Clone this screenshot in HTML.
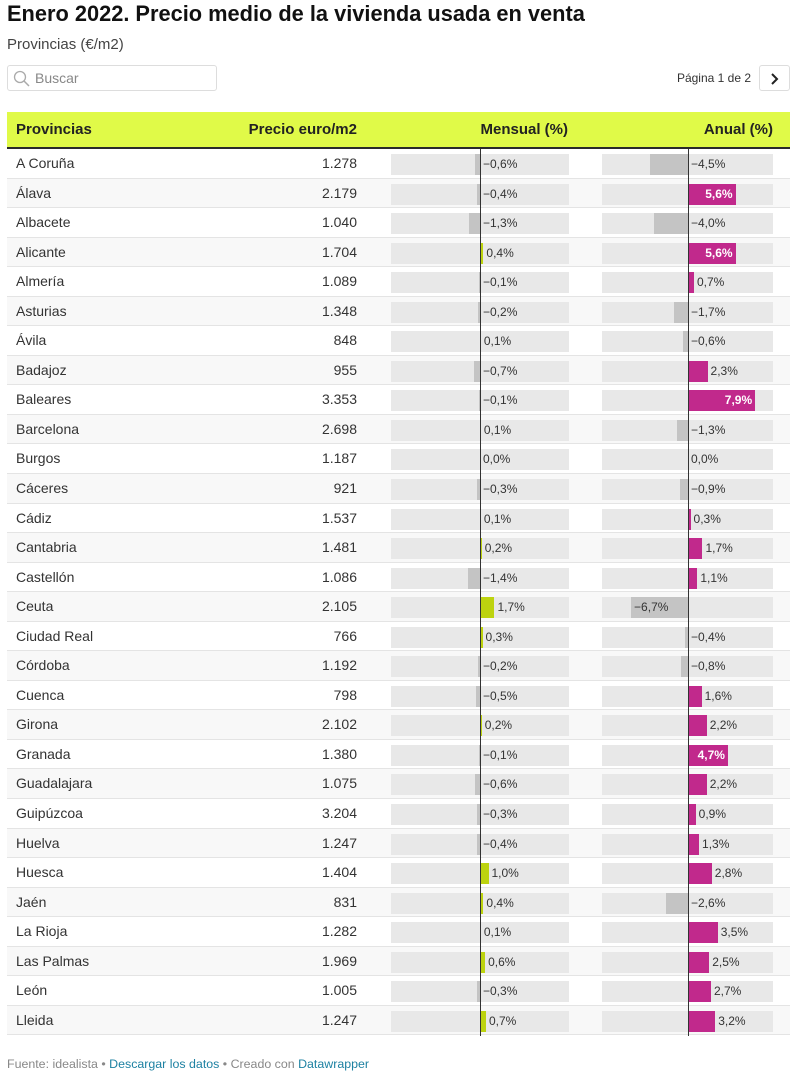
<!DOCTYPE html>
<html><head><meta charset="utf-8">
<style>
*{margin:0;padding:0;box-sizing:border-box}
i{font-style:normal}
body{width:800px;height:1079px;background:#fff;font-family:"Liberation Sans",Arial,sans-serif;color:#333;position:relative;overflow:hidden}
.title{position:absolute;left:7px;top:0;font-size:21.8px;font-weight:bold;line-height:28px;color:#111;white-space:nowrap}
.sub{position:absolute;left:7px;top:35px;font-size:15px;line-height:20px;color:#444}
.search{position:absolute;left:7px;top:65px;width:210px;height:26px;border:1px solid #ddd;border-radius:3px}
.search span{position:absolute;left:27px;top:0;line-height:24px;font-size:14px;color:#888}
.search svg{position:absolute;left:5px;top:4px}
.page{position:absolute;right:49px;top:70px;font-size:12px;line-height:16px;color:#333}
.nxt{position:absolute;left:759px;top:65px;width:31px;height:26px;border:1px solid #ddd;border-radius:3px}
.nxt svg{position:absolute;left:10px;top:7px}
.head{position:absolute;left:7px;top:112px;width:783px;height:37px;background:#e0fa48;border-bottom:2px solid #2a2a2a}
.head span{position:absolute;top:0;line-height:35px;font-size:15px;font-weight:bold;color:#222}
.rows{position:absolute;left:7px;top:149px;width:783px}
.row{position:relative;height:29.55px;border-bottom:1px solid #e4e4e4}
.row:nth-child(even){background:#f8f8f8}
.nm{position:absolute;left:9px;top:0;line-height:29px;font-size:14px;color:#333}
.pr{position:absolute;left:200px;width:150px;text-align:right;top:0;line-height:29px;font-size:14px;color:#333}
.bg1,.bg2{position:absolute;top:5px;height:21px;background:#e8e8e8}
.bg1{left:384px;width:178px}
.bg2{left:595px;width:171px}
.m,.a{position:absolute;top:5px;height:21px}
.m{left:calc(473px + min(var(--m),0)*8.5px);width:calc(max(var(--m),-1*var(--m))*8.5px)}
.a{left:calc(681px + min(var(--a),0)*8.5px);width:calc(max(var(--a),-1*var(--a))*8.5px)}
.mp .m{background:#bdd30f}.mn .m{background:#c4c4c4}
.ap .a{background:#c1298c}.an .a{background:#c4c4c4}
.ml,.al{position:absolute;top:5px;line-height:21px;font-size:12px;color:#333;white-space:nowrap}
.ml{left:calc(476px + max(var(--m),0)*8.5px)}
.al{left:calc(684px + max(var(--a),0)*8.5px)}
.a.in{color:#fff;font-weight:bold;font-size:12px;line-height:21px;text-align:right;padding-right:3px;white-space:nowrap}
.a.inl{color:#333;font-size:12px;line-height:21px;text-align:left;padding-left:3px;white-space:nowrap}
.z{position:absolute;top:149px;height:887px;width:1px;background:#333}
.foot{position:absolute;left:7px;top:1056px;font-size:12.4px;line-height:16px;color:#888;white-space:nowrap}
.foot b{font-weight:normal;color:#1d81a2}
</style></head><body>
<div class="title">Enero 2022. Precio medio de la vivienda usada en venta</div>
<div class="sub">Provincias (€/m2)</div>
<div class="search"><svg width="18" height="18" viewBox="0 0 18 18"><circle cx="7" cy="7" r="5.5" fill="none" stroke="#aaa" stroke-width="1.3"/><line x1="11" y1="11" x2="16" y2="16" stroke="#aaa" stroke-width="1.5"/></svg><span>Buscar</span></div>
<div class="page">Página 1 de 2</div>
<div class="nxt"><svg width="10" height="12" viewBox="0 0 10 12"><polyline points="2,1 7,6 2,11" fill="none" stroke="#222" stroke-width="2"/></svg></div>
<div class="head"><span style="left:9px">Provincias</span><span style="right:433px">Precio euro/m2</span><span style="right:222px">Mensual (%)</span><span style="right:17px">Anual (%)</span></div>
<div class="rows">
<div class="row mn an" style="--m:-0.6;--a:-4.5"><span class="nm">A Coruña</span><span class="pr">1.278</span><i class="bg1"></i><i class="m"></i><span class="ml">−0,6%</span><i class="bg2"></i><i class="a"></i><span class="al">−4,5%</span></div>
<div class="row mn ap" style="--m:-0.4;--a:5.6"><span class="nm">Álava</span><span class="pr">2.179</span><i class="bg1"></i><i class="m"></i><span class="ml">−0,4%</span><i class="bg2"></i><i class="a in">5,6%</i></div>
<div class="row mn an" style="--m:-1.3;--a:-4.0"><span class="nm">Albacete</span><span class="pr">1.040</span><i class="bg1"></i><i class="m"></i><span class="ml">−1,3%</span><i class="bg2"></i><i class="a"></i><span class="al">−4,0%</span></div>
<div class="row mp ap" style="--m:0.4;--a:5.6"><span class="nm">Alicante</span><span class="pr">1.704</span><i class="bg1"></i><i class="m"></i><span class="ml">0,4%</span><i class="bg2"></i><i class="a in">5,6%</i></div>
<div class="row mn ap" style="--m:-0.1;--a:0.7"><span class="nm">Almería</span><span class="pr">1.089</span><i class="bg1"></i><i class="m"></i><span class="ml">−0,1%</span><i class="bg2"></i><i class="a"></i><span class="al">0,7%</span></div>
<div class="row mn an" style="--m:-0.2;--a:-1.7"><span class="nm">Asturias</span><span class="pr">1.348</span><i class="bg1"></i><i class="m"></i><span class="ml">−0,2%</span><i class="bg2"></i><i class="a"></i><span class="al">−1,7%</span></div>
<div class="row mp an" style="--m:0.1;--a:-0.6"><span class="nm">Ávila</span><span class="pr">848</span><i class="bg1"></i><i class="m"></i><span class="ml">0,1%</span><i class="bg2"></i><i class="a"></i><span class="al">−0,6%</span></div>
<div class="row mn ap" style="--m:-0.7;--a:2.3"><span class="nm">Badajoz</span><span class="pr">955</span><i class="bg1"></i><i class="m"></i><span class="ml">−0,7%</span><i class="bg2"></i><i class="a"></i><span class="al">2,3%</span></div>
<div class="row mn ap" style="--m:-0.1;--a:7.9"><span class="nm">Baleares</span><span class="pr">3.353</span><i class="bg1"></i><i class="m"></i><span class="ml">−0,1%</span><i class="bg2"></i><i class="a in">7,9%</i></div>
<div class="row mp an" style="--m:0.1;--a:-1.3"><span class="nm">Barcelona</span><span class="pr">2.698</span><i class="bg1"></i><i class="m"></i><span class="ml">0,1%</span><i class="bg2"></i><i class="a"></i><span class="al">−1,3%</span></div>
<div class="row mp ap" style="--m:0;--a:0"><span class="nm">Burgos</span><span class="pr">1.187</span><i class="bg1"></i><i class="m"></i><span class="ml">0,0%</span><i class="bg2"></i><i class="a"></i><span class="al">0,0%</span></div>
<div class="row mn an" style="--m:-0.3;--a:-0.9"><span class="nm">Cáceres</span><span class="pr">921</span><i class="bg1"></i><i class="m"></i><span class="ml">−0,3%</span><i class="bg2"></i><i class="a"></i><span class="al">−0,9%</span></div>
<div class="row mp ap" style="--m:0.1;--a:0.3"><span class="nm">Cádiz</span><span class="pr">1.537</span><i class="bg1"></i><i class="m"></i><span class="ml">0,1%</span><i class="bg2"></i><i class="a"></i><span class="al">0,3%</span></div>
<div class="row mp ap" style="--m:0.2;--a:1.7"><span class="nm">Cantabria</span><span class="pr">1.481</span><i class="bg1"></i><i class="m"></i><span class="ml">0,2%</span><i class="bg2"></i><i class="a"></i><span class="al">1,7%</span></div>
<div class="row mn ap" style="--m:-1.4;--a:1.1"><span class="nm">Castellón</span><span class="pr">1.086</span><i class="bg1"></i><i class="m"></i><span class="ml">−1,4%</span><i class="bg2"></i><i class="a"></i><span class="al">1,1%</span></div>
<div class="row mp an" style="--m:1.7;--a:-6.7"><span class="nm">Ceuta</span><span class="pr">2.105</span><i class="bg1"></i><i class="m"></i><span class="ml">1,7%</span><i class="bg2"></i><i class="a inl">−6,7%</i></div>
<div class="row mp an" style="--m:0.3;--a:-0.4"><span class="nm">Ciudad Real</span><span class="pr">766</span><i class="bg1"></i><i class="m"></i><span class="ml">0,3%</span><i class="bg2"></i><i class="a"></i><span class="al">−0,4%</span></div>
<div class="row mn an" style="--m:-0.2;--a:-0.8"><span class="nm">Córdoba</span><span class="pr">1.192</span><i class="bg1"></i><i class="m"></i><span class="ml">−0,2%</span><i class="bg2"></i><i class="a"></i><span class="al">−0,8%</span></div>
<div class="row mn ap" style="--m:-0.5;--a:1.6"><span class="nm">Cuenca</span><span class="pr">798</span><i class="bg1"></i><i class="m"></i><span class="ml">−0,5%</span><i class="bg2"></i><i class="a"></i><span class="al">1,6%</span></div>
<div class="row mp ap" style="--m:0.2;--a:2.2"><span class="nm">Girona</span><span class="pr">2.102</span><i class="bg1"></i><i class="m"></i><span class="ml">0,2%</span><i class="bg2"></i><i class="a"></i><span class="al">2,2%</span></div>
<div class="row mn ap" style="--m:-0.1;--a:4.7"><span class="nm">Granada</span><span class="pr">1.380</span><i class="bg1"></i><i class="m"></i><span class="ml">−0,1%</span><i class="bg2"></i><i class="a in">4,7%</i></div>
<div class="row mn ap" style="--m:-0.6;--a:2.2"><span class="nm">Guadalajara</span><span class="pr">1.075</span><i class="bg1"></i><i class="m"></i><span class="ml">−0,6%</span><i class="bg2"></i><i class="a"></i><span class="al">2,2%</span></div>
<div class="row mn ap" style="--m:-0.3;--a:0.9"><span class="nm">Guipúzcoa</span><span class="pr">3.204</span><i class="bg1"></i><i class="m"></i><span class="ml">−0,3%</span><i class="bg2"></i><i class="a"></i><span class="al">0,9%</span></div>
<div class="row mn ap" style="--m:-0.4;--a:1.3"><span class="nm">Huelva</span><span class="pr">1.247</span><i class="bg1"></i><i class="m"></i><span class="ml">−0,4%</span><i class="bg2"></i><i class="a"></i><span class="al">1,3%</span></div>
<div class="row mp ap" style="--m:1.0;--a:2.8"><span class="nm">Huesca</span><span class="pr">1.404</span><i class="bg1"></i><i class="m"></i><span class="ml">1,0%</span><i class="bg2"></i><i class="a"></i><span class="al">2,8%</span></div>
<div class="row mp an" style="--m:0.4;--a:-2.6"><span class="nm">Jaén</span><span class="pr">831</span><i class="bg1"></i><i class="m"></i><span class="ml">0,4%</span><i class="bg2"></i><i class="a"></i><span class="al">−2,6%</span></div>
<div class="row mp ap" style="--m:0.1;--a:3.5"><span class="nm">La Rioja</span><span class="pr">1.282</span><i class="bg1"></i><i class="m"></i><span class="ml">0,1%</span><i class="bg2"></i><i class="a"></i><span class="al">3,5%</span></div>
<div class="row mp ap" style="--m:0.6;--a:2.5"><span class="nm">Las Palmas</span><span class="pr">1.969</span><i class="bg1"></i><i class="m"></i><span class="ml">0,6%</span><i class="bg2"></i><i class="a"></i><span class="al">2,5%</span></div>
<div class="row mn ap" style="--m:-0.3;--a:2.7"><span class="nm">León</span><span class="pr">1.005</span><i class="bg1"></i><i class="m"></i><span class="ml">−0,3%</span><i class="bg2"></i><i class="a"></i><span class="al">2,7%</span></div>
<div class="row mp ap" style="--m:0.7;--a:3.2"><span class="nm">Lleida</span><span class="pr">1.247</span><i class="bg1"></i><i class="m"></i><span class="ml">0,7%</span><i class="bg2"></i><i class="a"></i><span class="al">3,2%</span></div>
</div>
<div class="z" style="left:480px"></div>
<div class="z" style="left:688px"></div>
<div class="foot">Fuente: idealista • <b>Descargar los datos</b> • Creado con <b>Datawrapper</b></div>
</body></html>
